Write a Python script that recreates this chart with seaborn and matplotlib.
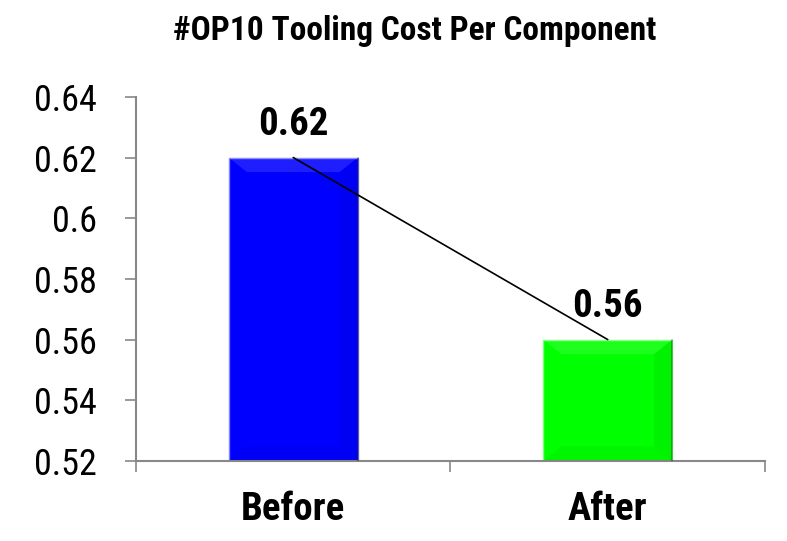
import matplotlib
matplotlib.use("Agg")
import matplotlib.pyplot as plt
from matplotlib.patches import Polygon
import seaborn as sns
import pandas as pd

categories = ["Before", "After"]
costs = [0.62, 0.56]
bar_colors = ["#0000FF", "#00FF00"]
edge_colors = ["#7f7fff", "#7fff7f"]
y_ticks = [0.52, 0.54, 0.56, 0.58, 0.6, 0.62, 0.64]
y_tick_labels = ["0.52", "0.54", "0.56", "0.58", "0.6", "0.62", "0.64"]
title = "#OP10 Tooling Cost Per Component"

sns.set_theme(style="white")
plt.rcParams["font.family"] = ["Roboto Condensed", "DejaVu Sans"]
plt.rcParams["text.color"] = "black"
plt.rcParams["xtick.color"] = "black"
plt.rcParams["ytick.color"] = "black"

df = pd.DataFrame({"stage": categories, "cost": costs})

fig = plt.figure(figsize=(7.87, 5.41), dpi=100)
ax = fig.add_axes([0.1728, 0.148, 0.7992, 0.673])

sns.barplot(data=df, x="stage", y="cost", hue="stage", palette=bar_colors,
            width=0.41, legend=False, ax=ax, saturation=1)

ymin, ymax = 0.52, 0.64
ax.set_ylim(ymin, ymax)
ax.set_xlim(-0.5, 1.5)

# soft bevel on each bar: lighter top, darker right side
for patch, edge in zip(ax.patches, edge_colors):
    x0, y0 = patch.get_x(), patch.get_y()
    w, h = patch.get_width(), patch.get_height()
    patch.set_edgecolor(edge)
    patch.set_linewidth(1.0)
    bw = w * 0.14
    bh = (ymax - ymin) * 0.04
    top = y0 + h
    bot = ymin
    ax.add_patch(Polygon([[x0, top], [x0 + w, top], [x0 + w - bw, top - bh],
                          [x0 + bw, top - bh]], closed=True,
                         facecolor="white", alpha=0.12, lw=0, zorder=3))
    ax.add_patch(Polygon([[x0 + w, top], [x0 + w - bw, top - bh],
                          [x0 + w - bw, bot + bh], [x0 + w, bot]], closed=True,
                         facecolor="black", alpha=0.05, lw=0, zorder=3))
    ax.add_patch(Polygon([[x0, bot], [x0 + bw, bot + bh], [x0 + w - bw, bot + bh],
                          [x0 + w, bot]], closed=True,
                         facecolor="black", alpha=0.04, lw=0, zorder=3))
    ax.plot([x0 + w, x0 + w], [bot, top], color="black", alpha=0.35, lw=1.2,
            zorder=4)

# trend line linking the bar tops
ax.plot([0, 1], costs, color="black", lw=1.2, zorder=5)

for i, v in enumerate(costs):
    ax.text(i, v + 0.0073, f"{v:.2f}", ha="center", va="baseline",
            fontsize=28, fontweight="bold", color="black")

ax.set_yticks(y_ticks)
ax.set_yticklabels(y_tick_labels)
ax.set_xticks([0, 1])
ax.set_xticklabels(categories, fontweight="bold")
ax.set_xlabel("")
ax.set_ylabel("")

ax.tick_params(axis="y", labelsize=26, length=8, width=1.2, color="#888888",
               labelcolor="black", direction="out", left=True, pad=20)
ax.tick_params(axis="x", labelsize=28, length=0, labelcolor="black", pad=22)
# category boundary ticks on the x axis
ax.set_xticks([-0.5, 0.5, 1.5], minor=True)
ax.tick_params(axis="x", which="minor", length=8, width=1.2, color="#888888",
               direction="out", bottom=True)

for side in ["top", "right"]:
    ax.spines[side].set_visible(False)
for side in ["left", "bottom"]:
    ax.spines[side].set_color("#888888")
    ax.spines[side].set_linewidth(1.5)

fig.text(0.5267, 0.943, title, ha="center", va="center",
         fontsize=24, fontweight="bold", color="black")

fig.savefig("out.png", dpi=100)
